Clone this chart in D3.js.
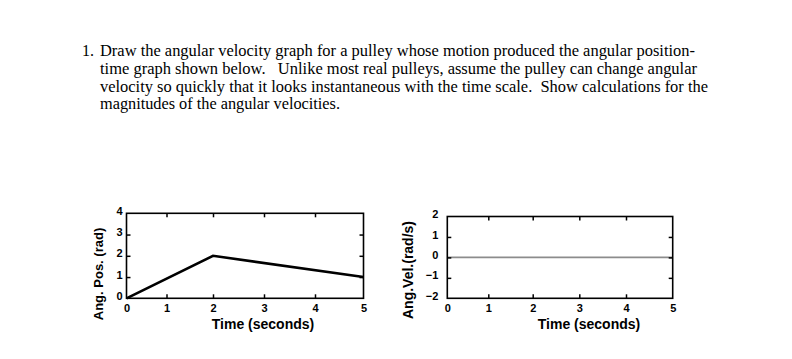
<!DOCTYPE html>
<html>
<head>
<meta charset="utf-8">
<script src="https://cdn.jsdelivr.net/npm/d3@7"></script>
<style>
  body { margin: 0; background: #fff; }
  svg { display: block; }
</style>
</head>
<body>
<div id="chart"></div>
<script>
// question text, one entry per printed line
const questionNumber = "1.";
const questionLines = [
  "Draw the angular velocity graph for a pulley whose motion produced the angular position-",
  "time graph shown below.   Unlike most real pulleys, assume the pulley can change angular",
  "velocity so quickly that it looks instantaneous with the time scale.  Show calculations for the",
  "magnitudes of the angular velocities."
];

// angular position graph
const timeTicks = [0, 1, 2, 3, 4, 5];
const posTicks = [0, 1, 2, 3, 4];
const posTime = [0, 2, 5];
const posValues = [0, 2, 1];

// angular velocity graph (left blank, only the zero line)
const velTicks = [-2, -1, 0, 1, 2];
const velTime = [0, 5];
const velValues = [0, 0];

const width = 792;
const height = 359;

const svg = d3.select("#chart")
  .append("svg")
  .attr("width", width)
  .attr("height", height);

// question text
const q = svg.append("g")
  .style("font-family", "'Liberation Serif', 'Times New Roman', serif")
  .style("font-size", "16px")
  .attr("fill", "#000");

q.append("text").attr("x", 82).attr("y", 56).text(questionNumber);

const lineEnds = [695, 697, 708, 340];
questionLines.forEach((t, i) => {
  q.append("text")
    .attr("x", 100)
    .attr("y", 56 + i * 17.8)
    .attr("textLength", lineEnds[i] - 100)
    .attr("lengthAdjust", "spacingAndGlyphs")
    .style("white-space", "pre")
    .text(t);
});

const fmt = d3.format("d");

function drawGraph(opts) {
  const x = d3.scaleLinear().domain(timeTicks).range(opts.xRange);
  const y = d3.scaleLinear().domain(opts.yDomain).range(opts.yRange);
  const g = svg.append("g")
    .style("font-family", "'Liberation Sans', Arial, sans-serif");

  const x0 = x(timeTicks[0]), x1 = x(timeTicks[timeTicks.length - 1]);
  const y0 = y(opts.yDomain[0]), y1 = y(opts.yDomain[1]);
  const inner = timeTicks.slice(1, -1);
  const innerY = opts.yTicks.slice(1, -1);

  // data line
  g.append("path")
    .datum(opts.xs.map((d, i) => [d, opts.ys[i]]))
    .attr("fill", "none")
    .attr("stroke", opts.lineColor)
    .attr("stroke-width", opts.lineWidth)
    .attr("stroke-linejoin", "miter")
    .attr("d", d3.line().x(d => x(d[0])).y(d => y(d[1])));

  // bottom axis: labels + inward ticks
  const bottom = g.append("g")
    .attr("transform", `translate(0,${y0})`)
    .call(d3.axisBottom(x).tickValues(timeTicks).tickFormat(fmt)
      .tickSizeInner(-4).tickSizeOuter(0).tickPadding(6));
  bottom.selectAll(".tick line").filter(d => !inner.includes(d)).remove();

  // left axis
  const left = g.append("g")
    .attr("transform", `translate(${x0},0)`)
    .call(d3.axisLeft(y).tickValues(opts.yTicks).tickFormat(fmt)
      .tickSizeInner(-4).tickSizeOuter(0).tickPadding(opts.yPad));
  left.selectAll(".tick line").filter(d => !innerY.includes(d)).remove();
  left.selectAll(".tick text").attr("dy", "0.1em");

  // top and right: ticks only
  const top = g.append("g")
    .attr("transform", `translate(0,${y1})`)
    .call(d3.axisTop(x).tickValues(inner).tickSizeInner(-4).tickSizeOuter(0).tickFormat(""));
  const right = g.append("g")
    .attr("transform", `translate(${x1},0)`)
    .call(d3.axisRight(y).tickValues(innerY).tickSizeInner(-4).tickSizeOuter(0).tickFormat(""));

  [bottom, left, top, right].forEach(a => {
    a.select(".domain").remove();
    a.selectAll(".tick line").attr("stroke", "#000").attr("stroke-width", 1.5);
    a.selectAll(".tick text")
      .attr("fill", "#000")
      .style("font-size", "11px")
      .style("font-weight", "bold")
      .style("font-family", "'Liberation Sans', Arial, sans-serif");
  });

  // frame
  g.append("rect")
    .attr("x", x0).attr("y", y1)
    .attr("width", x1 - x0).attr("height", y0 - y1)
    .attr("fill", "none")
    .attr("stroke", "#000")
    .attr("stroke-width", 1.6);

  // axis titles
  g.append("text")
    .attr("x", opts.xTitleX).attr("y", 329)
    .attr("text-anchor", "middle")
    .style("font-size", "14px").style("font-weight", "bold")
    .text("Time (seconds)");

  g.append("text")
    .attr("transform", `translate(${opts.yTitleX},${opts.yTitleY}) rotate(-90)`)
    .attr("text-anchor", "middle")
    .style("font-size", opts.yTitleSize).style("font-weight", "bold")
    .text(opts.yTitle);
}

drawGraph({
  xRange: [126.5, 166.5, 213, 264, 315, 363.5],
  yDomain: [0, 4],
  yRange: [298.3, 213.3],
  yTicks: posTicks,
  yPad: 4,
  xs: posTime, ys: posValues,
  lineColor: "#000", lineWidth: 2.6,
  xTitleX: 263,
  yTitle: "Ang. Pos. (rad)", yTitleX: 103, yTitleY: 274, yTitleSize: "13px"
});

drawGraph({
  xRange: [447.3, 488.3, 532.7, 579.3, 626, 672.7],
  yDomain: [-2, 2],
  yRange: [298.3, 216.5],
  yTicks: velTicks,
  yPad: 9,
  xs: velTime, ys: velValues,
  lineColor: "#8c8c8c", lineWidth: 1.6,
  xTitleX: 589,
  yTitle: "Ang.Vel.(rad/s)", yTitleX: 413, yTitleY: 270, yTitleSize: "14px"
});
</script>
</body>
</html>
